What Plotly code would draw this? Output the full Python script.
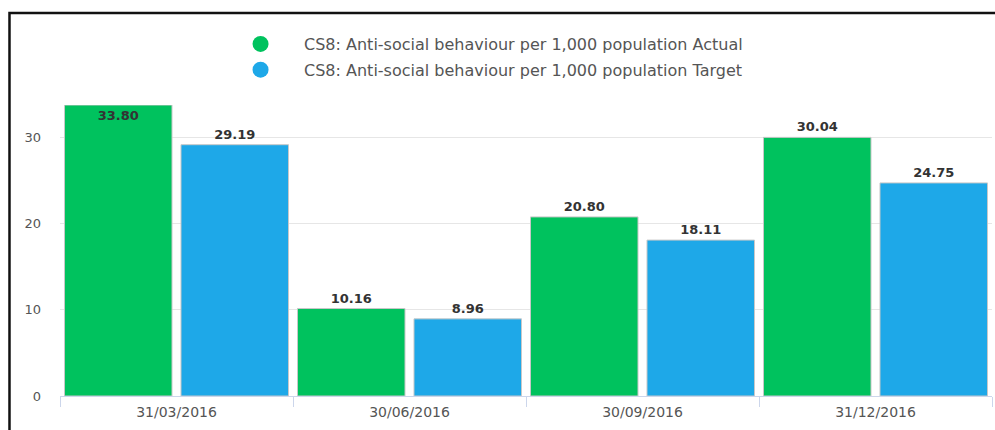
import plotly.graph_objects as go

categories = ["31/03/2016", "30/06/2016", "30/09/2016", "31/12/2016"]
actual = [33.80, 10.16, 20.80, 30.04]
target = [29.19, 8.96, 18.11, 24.75]
series_names = ["CS8: Anti-social behaviour per 1,000 population Actual",
                "CS8: Anti-social behaviour per 1,000 population Target"]
colors = ["#00C25E", "#1EA8E8"]
y_max = 33.8

FONT = "DejaVu Sans"

def positions(vals):
    return ["inside" if v >= y_max - 0.5 else "outside" for v in vals]

fig = go.Figure()
for i, (name, vals, col) in enumerate(zip(series_names, [actual, target], colors)):
    fig.add_trace(go.Bar(
        x=categories, y=vals, name=name, showlegend=False,
        marker=dict(color=col, line=dict(color="#c8c8c8", width=1)),
        text=[f"{v:.2f}" for v in vals],
        textposition=positions(vals),
        insidetextanchor="end",
        textfont=dict(family=FONT, size=13, color="#333333", weight="bold"),
        insidetextfont=dict(family=FONT, size=13, color="#333333", weight="bold"),
        outsidetextfont=dict(family=FONT, size=13, color="#333333", weight="bold"),
        cliponaxis=False,
    ))
    fig.add_trace(go.Scatter(
        x=[None], y=[None], mode="markers", name=name, legendgroup=f"g{i}",
        marker=dict(symbol="circle", size=16, color=col),
    ))

fig.update_layout(
    width=995, height=430,
    margin=dict(l=60, r=3, t=105, b=34),
    paper_bgcolor="white", plot_bgcolor="white",
    barmode="group", bargap=0.0, bargroupgap=0.077,
    font=dict(family=FONT, color="#555555"),
    legend=dict(
        orientation="v", x=0.1685, xanchor="left", y=1.165, yanchor="middle",
        font=dict(family=FONT, size=16, color="#555555"),
        itemwidth=77, tracegroupgap=2, bgcolor="rgba(0,0,0,0)",
    ),
    showlegend=True,
    xaxis=dict(
        showgrid=False, showline=True, linecolor="#ccd6eb", linewidth=1,
        ticks="outside", ticklen=10, tickcolor="#ccd6eb", tickson="boundaries",
        ticklabelstandoff=3,
        tickfont=dict(family=FONT, size=14, color="#555555"),
    ),
    yaxis=dict(
        range=[0, y_max], tickvals=[0, 10, 20, 30], showgrid=True,
        gridcolor="#e6e6e6", gridwidth=1, zeroline=False, showline=False,
        ticklabelstandoff=18,
        tickfont=dict(family=FONT, size=13, color="#555555"),
    ),
    shapes=[dict(type="path", xref="paper", yref="paper",
                 path="M -0.0542 -0.3 L -0.0542 1.316 L 1.01 1.316",
                 line=dict(color="#111111", width=2.5))],
)

fig.write_html("out.html")
